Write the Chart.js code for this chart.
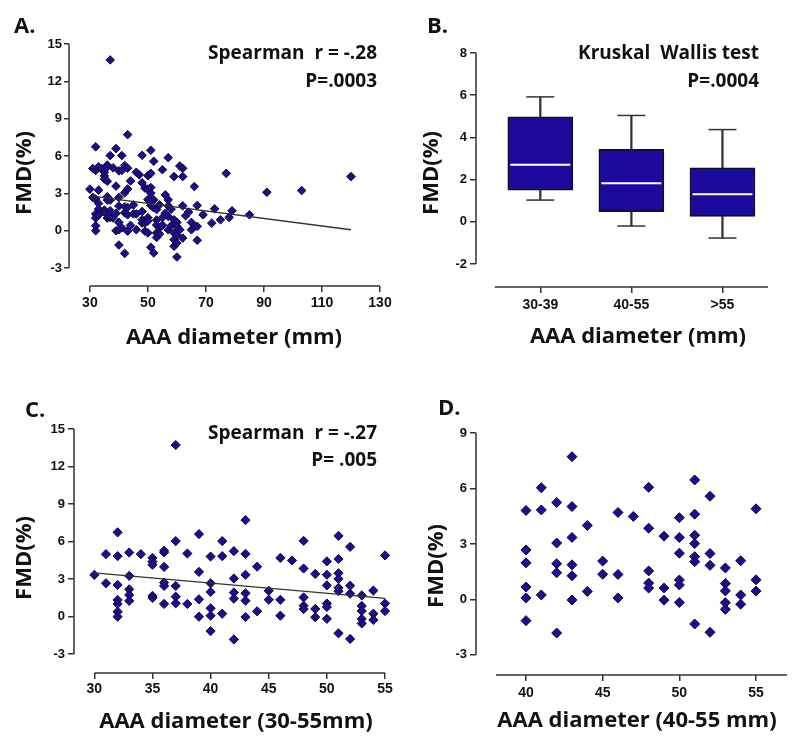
<!DOCTYPE html>
<html>
<head>
<meta charset="utf-8">
<script src="https://cdn.jsdelivr.net/npm/chart.js@4"></script>
<style>
  body { margin: 0; background: #fff; }
  #wrap { position: relative; width: 800px; height: 747px; }
  canvas { position: absolute; }
</style>
</head>
<body>
<div id="wrap">
  <canvas id="chartA" width="400" height="373" style="left:0;top:0"></canvas>
  <canvas id="chartB" width="400" height="373" style="left:400px;top:0"></canvas>
  <canvas id="chartC" width="400" height="374" style="left:0;top:373px"></canvas>
  <canvas id="chartD" width="400" height="374" style="left:400px;top:373px"></canvas>
</div>
<script>
// --- data ---
// patients with a 30-55 mm aneurysm (panel C, also part of A and D)
const cDiameter = [30, 31, 31, 32, 32, 32, 32, 32, 32, 32, 33, 33, 33, 33, 33, 34,
  35, 35, 35, 35, 35, 36, 36, 36, 36, 36, 36, 37, 37, 37, 37, 37, 38, 38,
  39, 39, 39, 39, 40, 40, 40, 40, 40, 40, 41, 41, 41, 42, 42, 42, 42, 42,
  43, 43, 43, 43, 43, 43, 44, 44, 45, 45, 46, 46, 46, 47, 48, 48, 48, 48, 48,
  49, 49, 49, 50, 50, 50, 50, 50, 50, 51, 51, 51, 51, 51, 51, 51, 52, 52, 52, 52,
  53, 53, 53, 53, 53, 54, 54, 54, 55, 55, 55];
const cFmd = [3.34, 5.0, 2.67, 6.74, 4.84, 2.54, 1.34, 1.02, 0.4, 0.0, 5.13, 3.26, 2.19, 1.74, 1.26, 5.0,
  4.7, 4.4, 4.15, 1.66, 1.5, 5.27, 5.13, 3.98, 2.73, 2.46, 1.02, 13.72, 6.04, 2.46, 1.6, 1.07, 5.05, 1.02,
  6.6, 3.58, 1.39, 0.0, 4.81, 2.67, 1.98, 0.67, 0.08, -1.15, 6.04, 4.84, 0.24, 5.24, 3.05, 1.93, 1.44, -1.82,
  7.72, 5.02, 3.35, 1.87, 1.28, -0.03, 4.0, 0.43, 2.07, 1.36, 4.7, 1.35, 0.08, 4.49, 6.06, 3.85, 1.54, 0.88, 0.61,
  3.42, 0.62, -0.04, 4.42, 3.35, 2.5, 1.05, 0.78, -0.17, 6.46, 4.61, 3.47, 3.02, 2.31, 2.04, -1.33, 5.58, 2.48, 1.84, -1.78,
  1.7, 0.86, 0.46, -0.18, -0.54, 2.09, 0.24, -0.26, 4.9, 1.06, 0.45];

// patients above 55 mm (only in panel A)
const bigDiameter = [56, 56, 57, 57, 57, 57, 57, 58, 58, 59, 59, 59, 59, 59, 60, 60, 60, 60, 60,
  61, 61, 62, 62, 62, 62, 63, 64, 65, 65, 66, 66, 67, 67, 67, 69, 72, 73, 75, 77, 78, 79, 85, 91, 103, 120];
const bigFmd = [2.88, 1.41, 5.87, 2.48, 2.0, 1.15, 0.08, 0.4, 1.73, 0.88, -0.19, 4.35, -1.25, -0.72, 0.67, 0.35, -0.32, -0.99, -2.11,
  0.08, 5.2, -0.59, 5.01, 4.35, 2.0, 1.2, 1.5, 0.67, 0.08, 0.35, 3.55, 2.03, 0.35, -0.77, 1.28, 0.61, 1.76, 0.88, 4.61, 1.07, 1.6, 1.28, 3.09, 3.23, 4.35];

// regression lines (end points)
const fitAX = [30, 120], fitAY = [2.8, 0.08];
const fitCX = [30, 55], fitCY = [3.5, 1.46];

// panel B box plot
const groups = ['30-39', '40-55', '>55'];
const boxQ1 = [1.5, 0.48, 0.25];
const boxMedian = [2.7, 1.83, 1.31];
const boxQ3 = [4.98, 3.43, 2.56];
const whiskerLow = [1.03, -0.2, -0.77];
const whiskerHigh = [5.92, 5.04, 4.37];

// tick labels
const aXTicks = [30, 50, 70, 90, 110, 130];
const aYTicks = [-3, 0, 3, 6, 9, 12, 15];
const bYTicks = [-2, 0, 2, 4, 6, 8];
const cXTicks = [30, 35, 40, 45, 50, 55];
const dXTicks = [40, 45, 50, 55];
const dYTicks = [-3, 0, 3, 6, 9];

// --- styling ---
const blue = '#1c0a9c';
const ink = '#111';
const axisColor = '#333';
const tickFamily = '"Liberation Sans", Arial, sans-serif';
const bigFont = 'bold 22px "Open Sans"';
const noteFont = 'bold 19px "Open Sans"';

const pts = (xs, ys) => xs.map((x, i) => ({ x: x, y: ys[i] }));

// offset axis lines (Prism style) + labels and notes
const decor = {
  id: 'decor',
  afterDraw(chart, args, opts) {
    const { ctx, chartArea, scales: { x, y } } = chart;
    ctx.save();
    ctx.strokeStyle = axisColor;
    ctx.lineWidth = 1.5;
    ctx.beginPath();
    ctx.moveTo(chartArea.left, y.getPixelForValue(opts.yLine[0]));
    ctx.lineTo(chartArea.left, y.getPixelForValue(opts.yLine[1]));
    ctx.moveTo(x.getPixelForValue(opts.xLine[0]), chartArea.bottom);
    ctx.lineTo(x.getPixelForValue(opts.xLine[1]), chartArea.bottom);
    ctx.stroke();
    ctx.fillStyle = ink;
    for (const t of opts.texts) {
      ctx.font = t.font;
      ctx.textAlign = t.align || 'left';
      ctx.textBaseline = t.baseline || 'alphabetic';
      if (t.rotate) {
        ctx.save();
        ctx.translate(t.x, t.y);
        ctx.rotate(-Math.PI / 2);
        ctx.fillText(t.text, 0, 0);
        ctx.restore();
      } else {
        ctx.fillText(t.text, t.x, t.y);
      }
    }
    ctx.restore();
  }
};

function xAxis(o) {
  return {
    type: 'linear', min: o.xMin, max: o.xMax, offset: false,
    afterBuildTicks: s => { s.ticks = o.xTicks.map(v => ({ value: v })); },
    afterFit: s => { s.height = o.xHeight; },
    border: { display: false },
    grid: { drawOnChartArea: false, offset: false, tickLength: 6, color: axisColor, lineWidth: 1.5 },
    ticks: {
      color: ink, padding: o.xPad, maxRotation: 0, autoSkip: false,
      font: { family: tickFamily, size: 14, weight: 'bold' },
      callback: o.xLabel || (v => v)
    }
  };
}

function yAxis(o) {
  return {
    type: 'linear', min: o.yMin, max: o.yMax,
    afterBuildTicks: s => { s.ticks = o.yTicks.map(v => ({ value: v })); },
    afterFit: s => { s.width = o.yWidth; },
    border: { display: false },
    grid: { drawOnChartArea: false, tickLength: o.yTickLen, color: axisColor, lineWidth: 1.5 },
    ticks: { color: ink, padding: o.yPad, font: { family: tickFamily, size: 13, weight: 'bold' } }
  };
}

function baseOptions(o) {
  return {
    responsive: false,
    animation: false,
    layout: { padding: o.padding },
    plugins: {
      legend: { display: false },
      tooltip: { enabled: false },
      decor: { xLine: o.xLine, yLine: o.yLine, texts: o.texts }
    },
    scales: { x: xAxis(o), y: yAxis(o) }
  };
}

function scatterSet(data, radius) {
  return {
    data: data, pointStyle: 'rectRot', pointRadius: radius, clip: false,
    backgroundColor: blue, borderColor: ink, borderWidth: 1, order: 1
  };
}

function fitSet(data) {
  return {
    type: 'line', data: data, showLine: true, pointRadius: 0,
    borderColor: axisColor, borderWidth: 1.3, order: 0
  };
}

// --- A ---
new Chart(document.getElementById('chartA'), {
  type: 'scatter',
  data: {
    datasets: [
      scatterSet(pts(cDiameter.concat(bigDiameter), cFmd.concat(bigFmd)), 4.3),
      fitSet(pts(fitAX, fitAY))
    ]
  },
  options: baseOptions({
    padding: { left: 0, top: 44, right: 20, bottom: 0 },
    xMin: 22.8, xMax: 130, xTicks: aXTicks, xHeight: 87, xPad: 3,
    yMin: -4.44, yMax: 15, yTicks: aYTicks, yWidth: 69, yTickLen: 5, yPad: 2,
    xLine: [30, 130], yLine: [-3, 15],
    texts: [
      { text: 'A.', x: 14, y: 33, font: bigFont },
      { text: 'Spearman  r = -.28', x: 377, y: 59, align: 'right', font: noteFont },
      { text: 'P=.0003', x: 377, y: 87, align: 'right', font: noteFont },
      { text: 'AAA diameter (mm)', x: 234, y: 338, align: 'center', baseline: 'middle', font: bigFont },
      { text: 'FMD(%)', x: 25, y: 173, align: 'center', baseline: 'middle', font: bigFont, rotate: true }
    ]
  }),
  plugins: [decor]
});

// --- B ---
const groupPos = groups.map((g, i) => i + 1);
const range = (lo, hi) => groupPos.map((p, i) => ({ x: p, y: [lo[i], hi[i]] }));
new Chart(document.getElementById('chartB'), {
  type: 'bar',
  data: {
    datasets: [
      { data: range(whiskerLow, boxQ1), backgroundColor: axisColor, barThickness: 1.6, grouped: false, order: 3 },
      { data: range(boxQ3, whiskerHigh), backgroundColor: axisColor, barThickness: 1.6, grouped: false, order: 3 },
      { data: range(boxQ1, boxQ3), backgroundColor: blue, borderColor: ink, borderWidth: 1.5,
        borderSkipped: false, barThickness: 65, grouped: false, order: 2 },
      { type: 'line', data: pts(groupPos, whiskerLow).concat(pts(groupPos, whiskerHigh)), showLine: false,
        pointStyle: 'line', pointRadius: 14, pointBorderColor: axisColor, pointBorderWidth: 1.5, order: 1 },
      { type: 'line', data: pts(groupPos, boxMedian), showLine: false,
        pointStyle: 'line', pointRadius: 30, pointBorderColor: '#fff', pointBorderWidth: 2, order: 0 }
    ]
  },
  options: baseOptions({
    padding: { left: 0, top: 53, right: 13, bottom: 0 },
    xMin: 0.294, xMax: 3.5, xTicks: groupPos, xHeight: 86, xPad: 4,
    xLabel: v => groups[v - 1],
    yMin: -3.09, yMax: 8, yTicks: bYTicks, yWidth: 76, yTickLen: 6, yPad: 3,
    xLine: [0.5, 3.5], yLine: [-2, 8],
    texts: [
      { text: 'B.', x: 27, y: 33, font: bigFont },
      { text: 'Kruskal  Wallis test', x: 359, y: 59, align: 'right', font: noteFont },
      { text: 'P=.0004', x: 359, y: 87, align: 'right', font: noteFont },
      { text: 'AAA diameter (mm)', x: 238, y: 337, align: 'center', baseline: 'middle', font: bigFont },
      { text: 'FMD(%)', x: 32, y: 173, align: 'center', baseline: 'middle', font: bigFont, rotate: true }
    ]
  }),
  plugins: [decor]
});

// --- C ---
new Chart(document.getElementById('chartC'), {
  type: 'scatter',
  data: {
    datasets: [
      scatterSet(pts(cDiameter, cFmd), 4.6),
      fitSet(pts(fitCX, fitCY))
    ]
  },
  options: baseOptions({
    padding: { left: 0, top: 56, right: 15, bottom: 0 },
    xMin: 28.25, xMax: 55, xTicks: cXTicks, xHeight: 74, xPad: 2,
    yMin: -4.5, yMax: 15, yTicks: aYTicks, yWidth: 74, yTickLen: 6, yPad: 3,
    xLine: [30, 55], yLine: [-3, 15],
    texts: [
      { text: 'C.', x: 25, y: 44, font: bigFont },
      { text: 'Spearman  r = -.27', x: 377, y: 66, align: 'right', font: noteFont },
      { text: 'P= .005', x: 377, y: 93, align: 'right', font: noteFont },
      { text: 'AAA diameter (30-55mm)', x: 236, y: 349, align: 'center', baseline: 'middle', font: bigFont },
      { text: 'FMD(%)', x: 25, y: 185, align: 'center', baseline: 'middle', font: bigFont, rotate: true }
    ]
  }),
  plugins: [decor]
});

// --- D ---
const dData = pts(cDiameter, cFmd).filter(p => p.x >= 40);
new Chart(document.getElementById('chartD'), {
  type: 'scatter',
  data: { datasets: [scatterSet(dData, 5)] },
  options: baseOptions({
    padding: { left: 0, top: 60, right: 13, bottom: 0 },
    xMin: 36.74, xMax: 57.02, xTicks: dXTicks, xHeight: 72, xPad: 4,
    yMin: -4.09, yMax: 9, yTicks: dYTicks, yWidth: 76, yTickLen: 6, yPad: 3,
    xLine: [38.04, 57.02], yLine: [-3, 9],
    texts: [
      { text: 'D.', x: 38, y: 42, font: bigFont },
      { text: 'AAA diameter (40-55 mm)', x: 237, y: 348, align: 'center', baseline: 'middle', font: bigFont },
      { text: 'FMD(%)', x: 37, y: 193, align: 'center', baseline: 'middle', font: bigFont, rotate: true }
    ]
  }),
  plugins: [decor]
});
</script>
</body>
</html>
